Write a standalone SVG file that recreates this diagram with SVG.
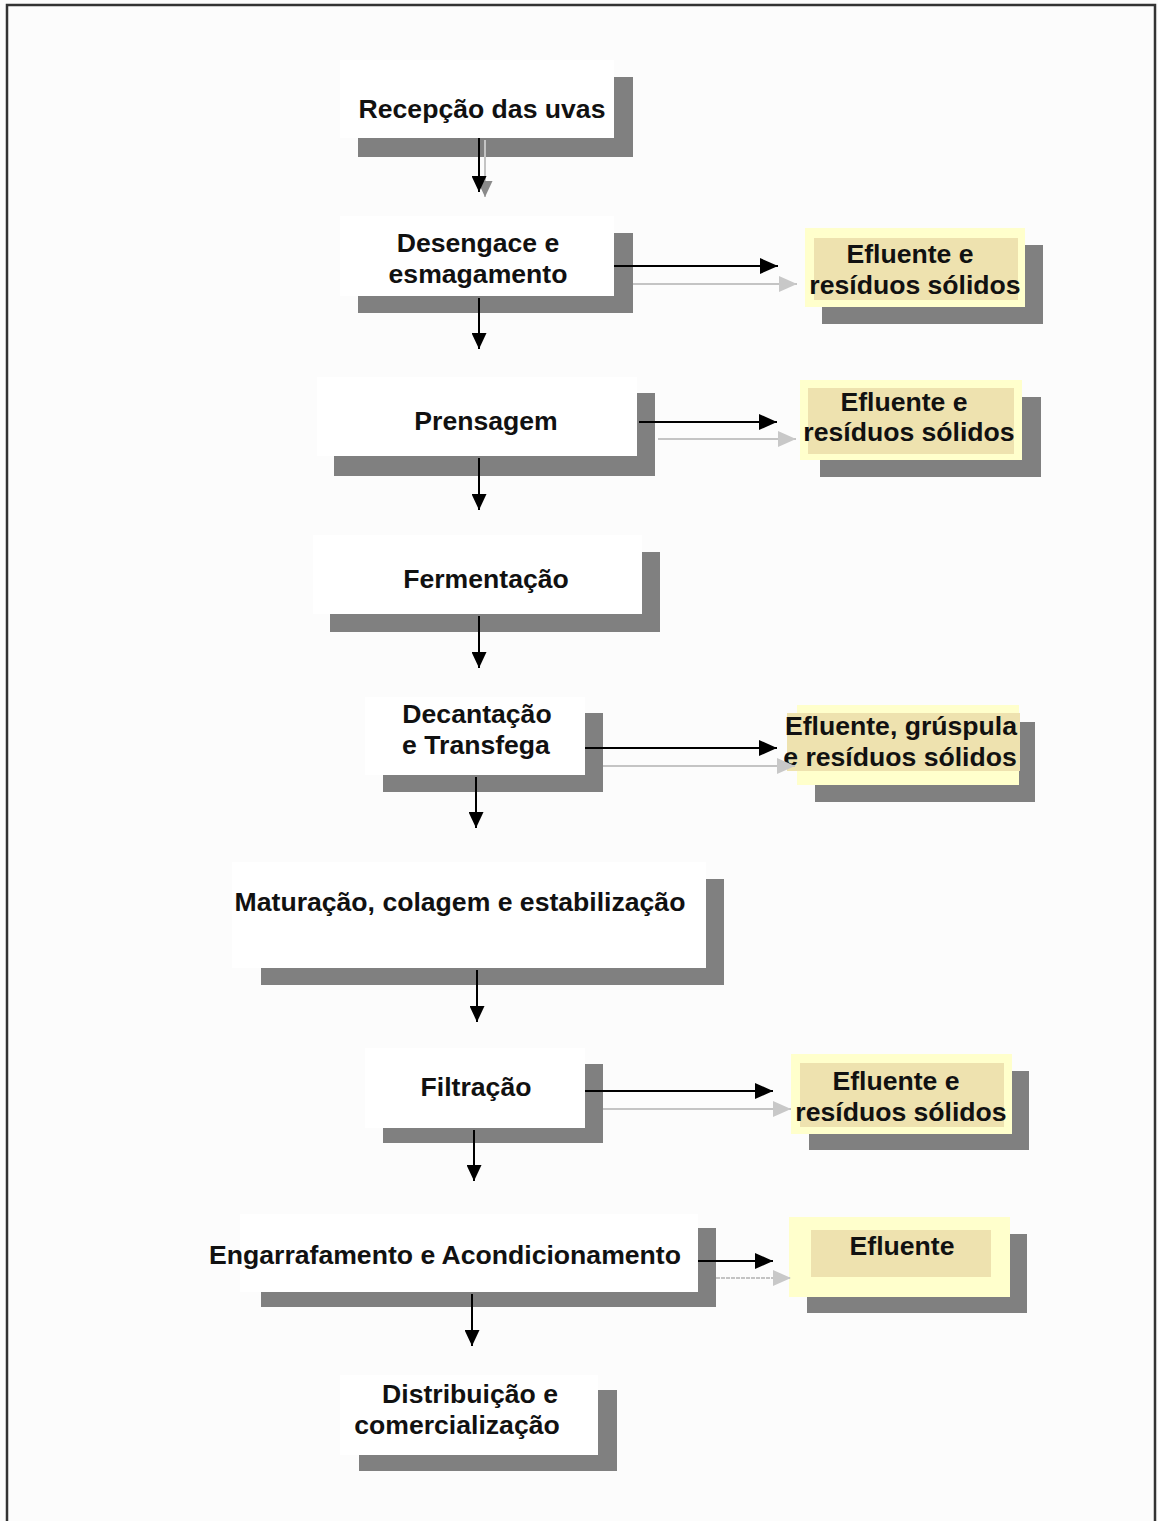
<svg xmlns="http://www.w3.org/2000/svg" width="1158" height="1521" viewBox="0 0 1158 1521">
<defs>
<style>
.sh{fill:#808080}
.wb{fill:#ffffff}
.yo{fill:#ffffcc}
.yi{fill:#eee2af}
.t{font-family:"Liberation Sans",Arial,sans-serif;font-weight:bold;font-size:26.6px;fill:#111;text-anchor:middle}
.ab{stroke:#000;stroke-width:2;fill:none}
.ag{stroke:#c4c4c4;stroke-width:2;fill:none}
</style>
<marker id="hb" viewBox="0 0 18 16" refX="18" refY="8" markerWidth="18" markerHeight="16" markerUnits="userSpaceOnUse" orient="auto"><path d="M0,0 L18,8 L0,16 z" fill="#000"/></marker>
<marker id="hg" viewBox="0 0 18 16" refX="18" refY="8" markerWidth="18" markerHeight="16" markerUnits="userSpaceOnUse" orient="auto"><path d="M0,0 L18,8 L0,16 z" fill="#c8c8c8"/></marker>
<marker id="hd" viewBox="0 0 16 15" refX="16" refY="7.5" markerWidth="16" markerHeight="15" markerUnits="userSpaceOnUse" orient="auto"><path d="M0,0 L16,7.5 L0,15 z" fill="#000"/></marker>
<marker id="hdg" viewBox="0 0 16 15" refX="16" refY="7.5" markerWidth="16" markerHeight="15" markerUnits="userSpaceOnUse" orient="auto"><path d="M0,0 L16,7.5 L0,15 z" fill="#8a8a8a"/></marker>
</defs>
<rect x="0" y="0" width="1158" height="1521" fill="#fcfcfc"/>
<rect x="7" y="5" width="1148" height="1540" fill="none" stroke="#333" stroke-width="2.5"/>

<g id="n1"><rect class="sh" x="358" y="77" width="275" height="80"/><rect class="wb" x="340" y="60" width="274" height="78"/><text class="t" x="482" y="118">Recepção das uvas</text></g>
<g id="n2"><rect class="sh" x="358" y="233" width="275" height="80"/><rect class="wb" x="340" y="216" width="274" height="80"/><text class="t" x="478" y="252">Desengace e</text><text class="t" x="478" y="283">esmagamento</text></g>
<g id="n3"><rect class="sh" x="334" y="393" width="321" height="83"/><rect class="wb" x="317" y="377" width="320" height="79"/><text class="t" x="486" y="430">Prensagem</text></g>
<g id="n4"><rect class="sh" x="330" y="552" width="330" height="80"/><rect class="wb" x="313" y="535" width="329" height="79"/><text class="t" x="486" y="588">Fermentação</text></g>
<g id="n5"><rect class="sh" x="383" y="713" width="220" height="79"/><rect class="wb" x="365" y="697" width="220" height="78"/><text class="t" x="477" y="723">Decantação</text><text class="t" x="476" y="754">e Transfega</text></g>
<g id="n6"><rect class="sh" x="261" y="879" width="463" height="106"/><rect class="wb" x="232" y="862" width="474" height="106"/><text class="t" x="460" y="911">Maturação, colagem e estabilização</text></g>
<g id="n7"><rect class="sh" x="383" y="1064" width="220" height="79"/><rect class="wb" x="365" y="1048" width="220" height="80"/><text class="t" x="476" y="1096">Filtração</text></g>
<g id="n8"><rect class="sh" x="261" y="1228" width="455" height="79"/><rect class="wb" x="240" y="1214" width="458" height="78"/><text class="t" x="445" y="1264">Engarrafamento e Acondicionamento</text></g>
<g id="n9"><rect class="sh" x="359" y="1390" width="258" height="81"/><rect class="wb" x="340" y="1375" width="258" height="80"/><text class="t" x="470" y="1403">Distribuição e</text><text class="t" x="457" y="1434">comercialização</text></g>

<g id="r1"><rect class="sh" x="822" y="245" width="221" height="79"/><rect class="yo" x="805" y="228" width="220" height="79"/><rect class="yi" x="814" y="238" width="204" height="62"/><text class="t" x="910" y="263">Efluente e</text><text class="t" x="915" y="294">resíduos sólidos</text></g>
<g id="r2"><rect class="sh" x="820" y="397" width="221" height="80"/><rect class="yo" x="800" y="380" width="222" height="80"/><rect class="yi" x="808" y="388" width="206" height="66"/><text class="t" x="904" y="411">Efluente e</text><text class="t" x="909" y="441">resíduos sólidos</text></g>
<g id="r3"><rect class="sh" x="815" y="722" width="220" height="80"/><rect class="yo" x="797" y="705" width="222" height="80"/><rect class="yi" x="787" y="713" width="233" height="58"/><text class="t" x="901" y="735">Efluente, grúspula</text><text class="t" x="900" y="766">e resíduos sólidos</text></g>
<g id="r4"><rect class="sh" x="809" y="1071" width="220" height="79"/><rect class="yo" x="791" y="1054" width="221" height="80"/><rect class="yi" x="800" y="1063" width="204" height="64"/><text class="t" x="896" y="1090">Efluente e</text><text class="t" x="901" y="1121">resíduos sólidos</text></g>
<g id="r5"><rect class="sh" x="807" y="1234" width="220" height="79"/><rect class="yo" x="789" y="1217" width="221" height="80"/><rect class="yi" x="811" y="1230" width="180" height="47"/><text class="t" x="902" y="1255">Efluente</text></g>

<g id="connectors">
<line class="ag" x1="485" y1="140" x2="485" y2="197" stroke="#999" marker-end="url(#hdg)"/>
<line class="ab" x1="479" y1="138" x2="479" y2="192" marker-end="url(#hd)"/>
<line class="ab" x1="479" y1="298" x2="479" y2="349" marker-end="url(#hd)"/>
<line class="ab" x1="479" y1="458" x2="479" y2="510" marker-end="url(#hd)"/>
<line class="ab" x1="479" y1="616" x2="479" y2="668" marker-end="url(#hd)"/>
<line class="ab" x1="476" y1="777" x2="476" y2="828" marker-end="url(#hd)"/>
<line class="ab" x1="477" y1="970" x2="477" y2="1022" marker-end="url(#hd)"/>
<line class="ab" x1="474" y1="1130" x2="474" y2="1181" marker-end="url(#hd)"/>
<line class="ab" x1="472" y1="1294" x2="472" y2="1346" marker-end="url(#hd)"/>

<line class="ag" x1="633" y1="284" x2="797" y2="284" marker-end="url(#hg)"/>
<line class="ab" x1="614" y1="266" x2="778" y2="266" marker-end="url(#hb)"/>
<line class="ag" x1="658" y1="439" x2="796" y2="439" marker-end="url(#hg)"/>
<line class="ab" x1="639" y1="422" x2="777" y2="422" marker-end="url(#hb)"/>
<line class="ag" x1="603" y1="766" x2="795" y2="766" marker-end="url(#hg)"/>
<line class="ab" x1="585" y1="748" x2="777" y2="748" marker-end="url(#hb)"/>
<line class="ag" x1="603" y1="1109" x2="791" y2="1109" marker-end="url(#hg)"/>
<line class="ab" x1="585" y1="1091" x2="773" y2="1091" marker-end="url(#hb)"/>
<line class="ag" x1="716" y1="1278" x2="791" y2="1278" stroke-dasharray="4 1" marker-end="url(#hg)"/>
<line class="ab" x1="698" y1="1261" x2="773" y2="1261" marker-end="url(#hb)"/>
</g>
</svg>
